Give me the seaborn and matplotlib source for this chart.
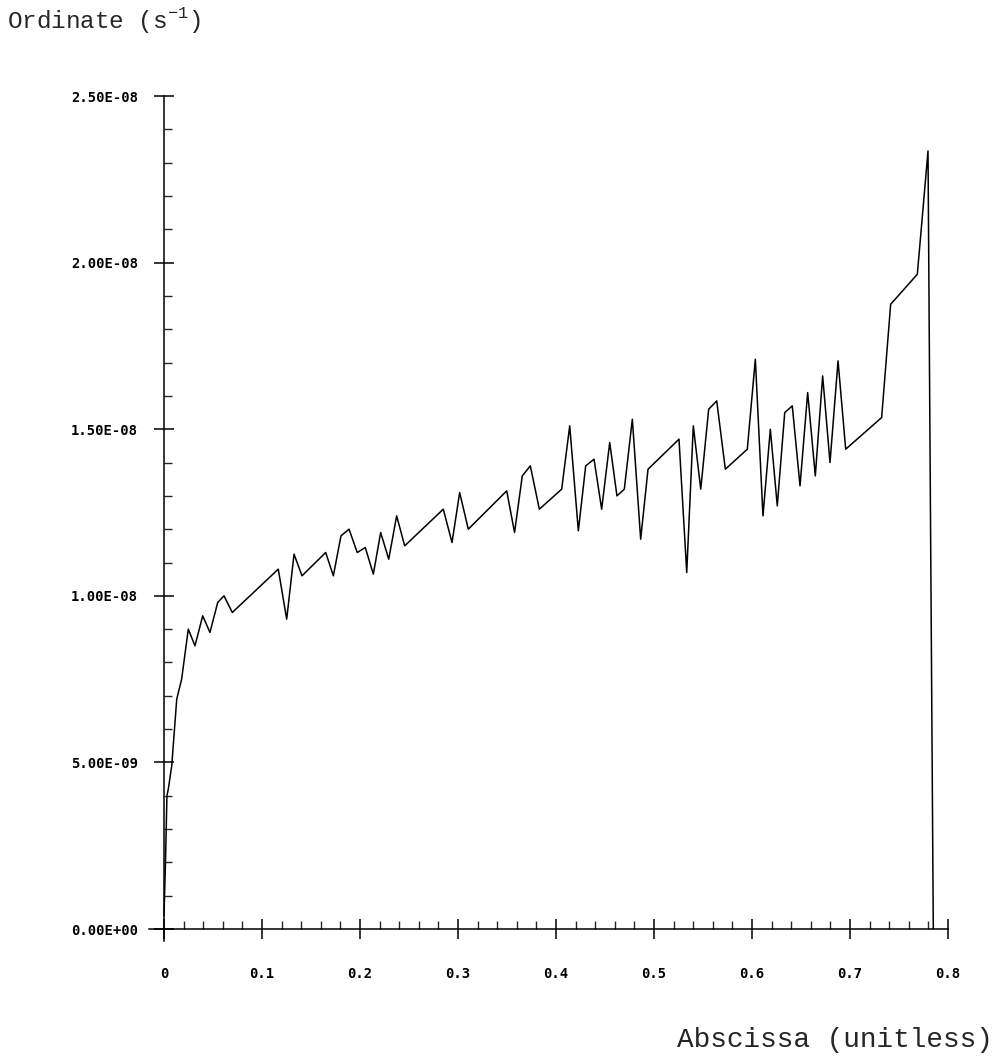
"""Ordinate vs abscissa line chart, plotter style."""

import matplotlib

matplotlib.use("Agg")
import matplotlib.pyplot as plt
import matplotlib.ticker as mticker
import pandas as pd
import seaborn as sns

# data (ordinate in units of 1e-9 s^-1)
abscissa = [
    0.0, 0.0015, 0.003, 0.0044, 0.0079, 0.013, 0.018, 0.0248, 0.0316, 0.0395,
    0.0469, 0.0548, 0.0612, 0.0697, 0.1166, 0.1252, 0.1327, 0.1408, 0.165, 0.1728,
    0.1806, 0.1888, 0.1972, 0.2054, 0.2136, 0.2211, 0.2293, 0.2374, 0.2456, 0.285,
    0.2939, 0.3017, 0.3105, 0.3497, 0.3577, 0.3656, 0.3738, 0.383, 0.4058, 0.414,
    0.4228, 0.4303, 0.4388, 0.4466, 0.4548, 0.4622, 0.4697, 0.4779, 0.4864, 0.4939,
    0.5255, 0.5334, 0.5401, 0.5477, 0.5558, 0.564, 0.5728, 0.5952, 0.6034, 0.6112,
    0.6187, 0.6258, 0.6334, 0.6411, 0.649, 0.6568, 0.6646, 0.6721, 0.6796, 0.6878,
    0.6956, 0.7323, 0.7415, 0.7687, 0.7796, 0.785,
]
ordinate_e9 = [
    0.4, 2.0, 4.0, 4.2, 4.9, 6.9, 7.5, 9.0, 8.5, 9.4,
    8.9, 9.8, 10.0, 9.5, 10.8, 9.3, 11.25, 10.6, 11.3, 10.6,
    11.8, 12.0, 11.3, 11.45, 10.65, 11.9, 11.1, 12.4, 11.5, 12.6,
    11.6, 13.1, 12.0, 13.15, 11.9, 13.6, 13.9, 12.6, 13.2, 15.1,
    11.95, 13.9, 14.1, 12.6, 14.6, 13.0, 13.2, 15.3, 11.7, 13.8,
    14.7, 10.7, 15.1, 13.2, 15.6, 15.85, 13.8, 14.4, 17.1, 12.4,
    15.0, 12.7, 15.5, 15.7, 13.3, 16.1, 13.6, 16.6, 14.0, 17.05,
    14.4, 15.35, 18.75, 19.65, 23.35, 0.0,
]

y_major = [0.0, 5e-9, 1e-8, 1.5e-8, 2e-8, 2.5e-8]
x_major = [0.0, 0.1, 0.2, 0.3, 0.4, 0.5, 0.6, 0.7, 0.8]

sns.set_style("ticks")
plt.rcParams["font.family"] = ["DejaVu Sans Mono", "DejaVu Sans"]
plt.rcParams["mathtext.fontset"] = "custom"
plt.rcParams["mathtext.rm"] = "Liberation Mono"

df = pd.DataFrame({"x": abscissa, "y": [v * 1e-9 for v in ordinate_e9]})

fig = plt.figure(figsize=(10, 10.6), dpi=100)
ax = fig.add_axes([0.1493, 0.11255, 0.7987, 0.79688])

sns.lineplot(data=df, x="x", y="y", estimator=None, sort=False, color="black", linewidth=1.1, ax=ax)

ax.set_xlim(-0.015, 0.8)
ax.set_ylim(-0.35e-9, 2.5e-8)
ax.spines["left"].set_position(("data", 0.0))
ax.spines["bottom"].set_position(("data", 0.0))
for side in ("top", "right"):
    ax.spines[side].set_visible(False)
for side in ("left", "bottom"):
    ax.spines[side].set_linewidth(1.1)
    ax.spines[side].set_color("black")

ax.xaxis.set_major_locator(mticker.FixedLocator(x_major))
ax.xaxis.set_minor_locator(mticker.MultipleLocator(0.02))
ax.yaxis.set_major_locator(mticker.FixedLocator(y_major))
ax.yaxis.set_minor_locator(mticker.MultipleLocator(1e-9))
ax.xaxis.set_major_formatter(mticker.FuncFormatter(lambda v, _: "0" if v == 0 else f"{v:.1f}"))
ax.yaxis.set_major_formatter(mticker.FuncFormatter(lambda v, _: f"{v:.2E}"))

ax.tick_params(axis="x", which="major", direction="inout", length=14.4, width=1.1, pad=20,
               labelsize=10, colors="black")
ax.tick_params(axis="x", which="minor", direction="in", length=5.8, width=1.0)
ax.tick_params(axis="y", which="major", direction="inout", length=13.7, width=1.1, pad=12,
               labelsize=10, colors="black")
ax.tick_params(axis="y", which="minor", direction="in", length=5.8, width=1.0)
for lbl in ax.get_xticklabels() + ax.get_yticklabels():
    lbl.set_fontweight("bold")

ax.set_xlabel("")
ax.set_ylabel("")

fig.text(0.007, 0.981, r"Ordinate (s$^{\mathrm{-1}}$)", family="Liberation Mono",
         fontsize=17.5, ha="left", va="center")
fig.text(0.993, 0.019, "Abscissa (unitless)", family="Liberation Mono",
         fontsize=20, ha="right", va="center")

fig.savefig("out.png", dpi=100)
